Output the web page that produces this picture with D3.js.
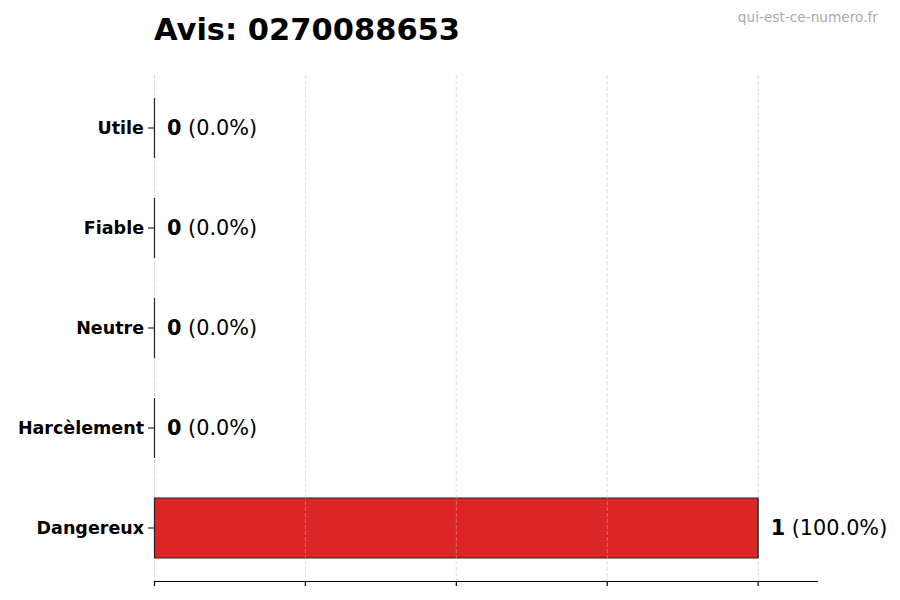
<!DOCTYPE html>
<html>
<head>
<meta charset="utf-8">
<script src="https://cdn.jsdelivr.net/npm/d3@7"></script>
<style>
  body { margin: 0; background: #fff; }
  svg { font-family: "DejaVu Sans", sans-serif; }
</style>
</head>
<body>
<div id="chart"><svg width="900" height="600"></svg></div>
<script>
const categories = ['Utile', 'Fiable', 'Neutre', 'Harcèlement', 'Dangereux'];
const counts = [0, 0, 0, 0, 1];
const percents = [0.0, 0.0, 0.0, 0.0, 100.0];
const xTicks = [0, 0.25, 0.5, 0.75, 1];
const title = 'Avis: 0270088653';
const watermark = 'qui-est-ce-numero.fr';

const svg = d3.select('#chart svg');

const margin = { left: 154, right: 82, top: 75, bottom: 19 };
const WIDTH = 900;
const HEIGHT = 600;

// X Scale (extra room on the right for the labels)
const scaleX = d3.scaleLinear()
    .domain([0, 1.1])
    .range([margin.left, WIDTH - margin.right]);

// Y Scale
const scaleY = d3.scaleBand()
    .domain(categories)
    .range([margin.top, HEIGHT - margin.bottom])
    .paddingInner(0.4)
    .paddingOuter(0.23);

// Grid lines
svg.append('g')
    .attr('id', 'grid')
    .selectAll('line')
    .data(xTicks)
    .join('line')
    .attr('x1', d => scaleX(d) + 0.5)
    .attr('x2', d => scaleX(d) + 0.5)
    .attr('y1', margin.top)
    .attr('y2', HEIGHT - margin.bottom)
    .style('stroke', '#d6d6d6')
    .style('stroke-width', 1)
    .style('stroke-dasharray', '4,2');

// Bars (paths so that zero-width bars still show their edge)
svg.append('g')
    .attr('id', 'bars')
    .selectAll('path')
    .data(counts)
    .join('path')
    .attr('d', (d, i) => {
        const x0 = scaleX(0) + 0.5;
        const w = scaleX(d) - scaleX(0);
        const y = scaleY(categories[i]);
        return `M${x0},${y}h${w}v${scaleY.bandwidth()}h${-w}Z`;
    })
    .style('fill', '#dc2626')
    .style('stroke', '#222')
    .style('stroke-width', 1.2);

// Grid shows faintly through the bars
svg.append('g')
    .attr('id', 'grid-over')
    .selectAll('line')
    .data(xTicks.filter(t => t > 0 && t < 1))
    .join('line')
    .attr('x1', d => scaleX(d) + 0.5)
    .attr('x2', d => scaleX(d) + 0.5)
    .attr('y1', margin.top)
    .attr('y2', HEIGHT - margin.bottom)
    .style('stroke', '#ffffff')
    .style('stroke-opacity', 0.3)
    .style('stroke-width', 1)
    .style('stroke-dasharray', '4,2');

// X axis (no labels)
const xAxis = svg.append('g')
    .attr('transform', `translate(0,${HEIGHT - margin.bottom})`)
    .call(d3.axisBottom(scaleX).tickValues(xTicks).tickFormat('').tickSize(5).tickSizeOuter(0));
xAxis.select('.domain')
    .attr('d', `M${scaleX(0)},0.5H${scaleX(1.1)}`)
    .style('stroke', '#000')
    .style('stroke-width', 1.2);
xAxis.selectAll('.tick line').style('stroke', '#000').style('stroke-width', 1.2);

// Y axis (ticks + labels, no spine)
const yAxis = svg.append('g')
    .attr('transform', `translate(${margin.left},0)`)
    .call(d3.axisLeft(scaleY).tickSize(6).tickPadding(4));
yAxis.select('.domain').remove();
yAxis.selectAll('.tick line').style('stroke', '#000');
yAxis.selectAll('.tick text')
    .style('font-family', '"DejaVu Sans", sans-serif')
    .style('font-size', '17.5px')
    .style('font-weight', 'bold')
    .style('fill', '#000');

// Value labels
const labels = svg.append('g')
    .attr('id', 'labels')
    .selectAll('text')
    .data(counts)
    .join('text')
    .attr('x', d => scaleX(d) + 13)
    .attr('y', (_d, i) => scaleY(categories[i]) + scaleY.bandwidth() / 2)
    .attr('dy', '0.36em')
    .style('font-size', '20.8px')
    .style('fill', '#000');

labels.append('tspan')
    .style('font-weight', 'bold')
    .text(d => d);
labels.append('tspan')
    .text((_d, i) => ` (${percents[i].toFixed(1)}%)`);

// Title
svg.append('text')
    .attr('x', margin.left)
    .attr('y', 40)
    .text(title)
    .style('font-size', '30.5px')
    .style('font-weight', 'bold')
    .style('fill', '#000');

// Watermark
svg.append('text')
    .attr('x', 878)
    .attr('y', 22)
    .attr('text-anchor', 'end')
    .text(watermark)
    .style('font-size', '13.7px')
    .style('fill', '#aaaaaa');
</script>
</body>
</html>
